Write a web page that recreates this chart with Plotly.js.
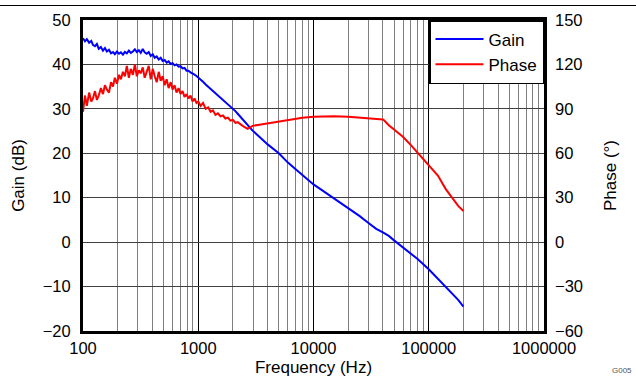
<!DOCTYPE html>
<html>
<head>
<meta charset="utf-8">
<script src="https://cdn.plot.ly/plotly-3.0.1.min.js"></script>
<style>html,body{margin:0;padding:0;background:#fff}#chart{width:636px;height:379px}</style>
</head>
<body>
<div id="chart"></div>
<script>
const freq = [100,104,108,113,118,122,127,132,137,143,149,155,161,168,175,182,189,197,205,213,222,231,240,250,260,271,282,293,305,317,330,343,357,372,387,403,419,436,454,472,491,511,532,553,576,599,623,648,675,702,731,760,791,823,857,891,927,965,1000,1050,1100,1160,1220,1280,1340,1410,1480,1560,1640,1720,1810,1900,2000,2100,2200,2310,2430,2550,2680,2820,2960,3500,4000,5000,6000,7000,8000,10000,12000,15000,20000,25000,30000,35000,40000,45000,50000,60000,70000,80000,100000,120000,140000,160000,180000,200000];
const gain = [45.9,45.2,45.7,44.9,45.3,44.4,44.1,44.6,43.5,43.9,43.1,43.7,42.9,43.3,42.5,42.8,42.3,42.9,42.4,42.7,42.2,42.8,42.5,43.1,42.6,42.9,43.4,42.8,43.2,42.6,43.5,42.7,42.4,42.8,41.9,42.3,41.5,41.8,41.1,41.5,40.8,41.0,40.4,40.7,40.1,40.3,39.8,40.0,39.5,39.6,39.1,39.2,38.6,38.6,38.2,38.0,37.7,37.4,37.1,36.6,36.1,35.5,35.0,34.4,33.9,33.5,33.1,32.5,32.0,31.5,31.0,30.5,30.1,29.5,28.9,28.3,27.6,26.9,26.3,25.7,25.1,23.4,22.0,20.0,17.9,16.4,15.1,13.0,11.6,9.9,7.6,5.9,4.3,3.0,2.2,1.4,0.4,-1.2,-2.6,-3.8,-6.1,-8.2,-9.9,-11.6,-13.0,-14.5];
const phaseFreq = [100,104,108,113,118,122,127,132,137,143,149,155,161,168,175,182,189,197,205,213,222,231,240,250,260,271,282,293,305,317,330,343,357,372,387,403,419,436,454,472,491,511,532,553,576,599,623,648,675,702,731,760,791,823,857,891,927,965,1000,1050,1100,1160,1220,1280,1340,1410,1480,1560,1640,1720,1810,1900,2000,2100,2200,2310,2430,2550,2680,2820,2960,3500,4000,5000,6000,7000,8000,10000,12000,15000,20000,25000,30000,35000,40000,41000,45000,50000,55000,60000,70000,80000,90000,100000,110000,120000,140000,160000,180000,200000];
const phase = [88,99,92,101,95,97,102,96,99,104,100,106,103,101,108,105,111,107,113,110,115,112,119,111,117,113,120,112,116,114,118,111,115,119,110,117,112,108,115,109,112,106,110,104,108,103,106,101,104,100,102,98,100,97,99,95,97,94,95,92,94,90,91,88,89,86,87,85,85.5,83.5,84,82,82.5,80.5,81,79.5,78.5,77.5,76.5,77.5,78.5,79.5,80.2,81.5,82.5,83.3,84,84.6,85,85,84.7,84.2,83.6,83.2,82.8,82.3,79,76,73.5,71,65.5,60.5,56,52,48.5,45,36,29.5,24.5,21];
const xTicks = [100,1000,10000,100000,1000000];
const xTickText = ['100','1000','10000','100000','1000000'];

const FAM = 'Liberation Sans, Arial, sans-serif';
const tickFont = {family: FAM, size: 16.5, color: '#000'};
const titleFont = {family: FAM, size: 17, color: '#000'};

const traces = [
  {x: freq, y: gain, name: 'Gain', type: 'scatter', mode: 'lines', line: {color: '#0000FF', width: 2}, yaxis: 'y'},
  {x: phaseFreq, y: phase, name: 'Phase', type: 'scatter', mode: 'lines', line: {color: '#FF0000', width: 2}, yaxis: 'y2'}
];

const layout = {
  width: 636, height: 379,
  margin: {l: 83, r: 92, t: 20, b: 48},
  paper_bgcolor: '#fff', plot_bgcolor: '#fff',
  font: tickFont,
  showlegend: true,
  legend: {x: 1, xanchor: 'right', y: 1, yanchor: 'top', bgcolor: '#fff', bordercolor: '#000', borderwidth: 1.5, font: titleFont, tracegroupgap: 0, itemwidth: 48},
  xaxis: {
    type: 'log', range: [2, 6],
    tickvals: xTicks, ticktext: xTickText,
    ticks: '', showgrid: true, gridcolor: '#000', gridwidth: 1,
    minor: {dtick: 'D1', showgrid: true, gridcolor: '#7f7f7f', gridwidth: 1, ticks: ''},
    showline: true, linecolor: '#000', linewidth: 3, mirror: true,
    zeroline: false,
    title: {text: 'Frequency (Hz)', font: titleFont, standoff: 6},
    tickfont: tickFont
  },
  yaxis: {
    range: [-20, 50], dtick: 10, tick0: 0,
    ticks: '', showgrid: true, gridcolor: '#404040', gridwidth: 1,
    showline: true, linecolor: '#000', linewidth: 3, mirror: true,
    zeroline: false, ticklabelstandoff: 6,
    title: {text: 'Gain (dB)', font: titleFont, standoff: 14},
    tickfont: tickFont
  },
  yaxis2: {
    range: [-60, 150], dtick: 30, tick0: 0,
    overlaying: 'y', side: 'right',
    ticks: '', showgrid: false, zeroline: false,
    showline: false, ticklabelstandoff: 10,
    title: {text: 'Phase (°)', font: titleFont, standoff: 22},
    tickfont: tickFont
  },
  shapes: [
    {type: 'line', xref: 'paper', yref: 'paper', x0: -0.2, x1: 1.25, y0: 1.0466, y1: 1.0466, line: {color: '#000', width: 1}}
  ],
  annotations: [
    {text: 'G005', xref: 'paper', yref: 'paper', x: 1.17, y: -0.128, xanchor: 'center', yanchor: 'middle', showarrow: false, font: {family: FAM, size: 8, color: '#555'}}
  ]
};

Plotly.newPlot('chart', traces, layout, {displayModeBar: false, staticPlot: true});
</script>
</body>
</html>
